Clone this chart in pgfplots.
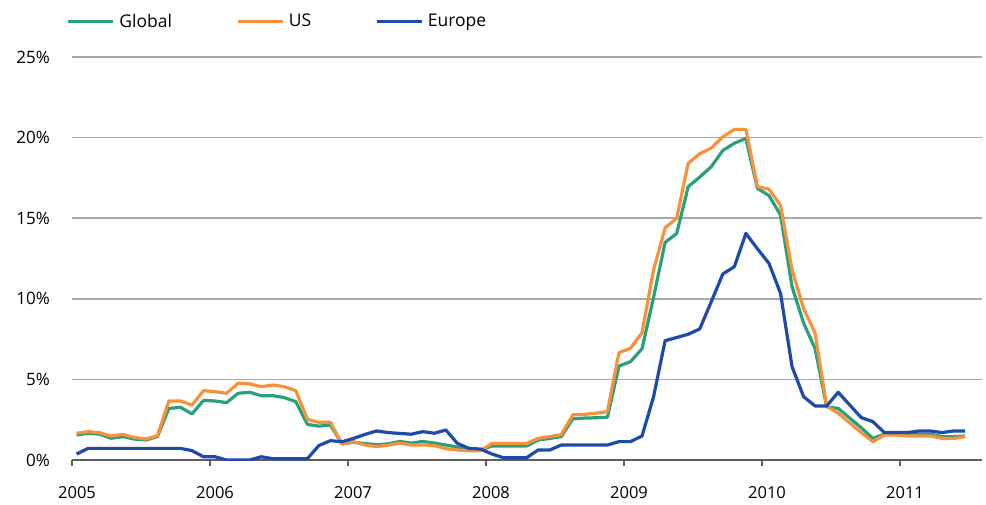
\documentclass[border=0pt]{standalone}
\usepackage{fontspec}
\setmainfont{Open Sans}
\usepackage{pgfplots}
\usepackage{pgfplotstable}
\pgfplotsset{compat=1.18}
\definecolor{cglobal}{RGB}{40,160,125}
\definecolor{cus}{RGB}{247,145,60}
\definecolor{ceurope}{RGB}{30,75,170}
\definecolor{gridgray}{RGB}{165,168,174}
\definecolor{axgray}{RGB}{95,95,95}
\pgfplotstableread{
i g u e
0 1.55 1.66 0.37
1 1.66 1.76 0.72
2 1.60 1.69 0.72
3 1.35 1.49 0.72
4 1.45 1.59 0.72
5 1.30 1.40 0.72
6 1.24 1.30 0.72
7 1.45 1.50 0.72
8 3.20 3.66 0.72
9 3.27 3.66 0.72
10 2.86 3.41 0.58
11 3.70 4.30 0.20
12 3.66 4.24 0.20
13 3.56 4.14 0.00
14 4.14 4.76 0.00
15 4.20 4.72 0.00
16 3.99 4.55 0.20
17 3.99 4.65 0.08
18 3.87 4.55 0.08
19 3.62 4.30 0.08
20 2.21 2.52 0.08
21 2.10 2.34 0.90
22 2.17 2.34 1.20
23 1.00 0.99 1.13
24 1.10 1.13 1.34
25 1.02 0.93 1.59
26 0.95 0.83 1.80
27 1.00 0.92 1.70
28 1.15 1.05 1.65
29 1.05 0.93 1.60
30 1.15 0.93 1.76
31 1.05 0.90 1.66
32 0.93 0.70 1.86
33 0.80 0.62 1.03
34 0.68 0.58 0.72
35 0.62 0.58 0.68
36 0.87 1.03 0.37
37 0.87 1.03 0.14
38 0.87 1.03 0.14
39 0.87 1.03 0.14
40 1.24 1.34 0.62
41 1.34 1.45 0.62
42 1.45 1.57 0.93
43 2.55 2.80 0.93
44 2.60 2.83 0.93
45 2.62 2.90 0.93
46 2.65 3.00 0.93
47 5.83 6.66 1.14
48 6.10 6.93 1.14
49 6.90 7.90 1.49
50 10.10 11.80 3.93
51 13.50 14.40 7.40
52 14.05 15.00 7.60
53 16.95 18.40 7.80
54 17.55 19.00 8.13
55 18.20 19.35 9.82
56 19.20 20.05 11.54
57 19.65 20.50 11.99
58 19.95 20.50 14.06
59 16.85 16.95 13.10
60 16.40 16.80 12.20
61 15.20 15.80 10.34
62 10.75 11.80 5.79
63 8.50 9.40 3.93
64 6.90 7.86 3.35
65 3.30 3.35 3.35
66 3.20 2.90 4.20
67 2.60 2.30 3.41
68 2.00 1.70 2.63
69 1.34 1.14 2.38
70 1.60 1.55 1.70
71 1.60 1.55 1.70
72 1.55 1.49 1.70
73 1.60 1.49 1.80
74 1.60 1.49 1.80
75 1.45 1.34 1.70
76 1.45 1.34 1.80
77 1.49 1.45 1.80
}\datatable
\begin{document}
\begin{tikzpicture}
\path[use as bounding box] (-72pt,-44pt) rectangle (914pt,460pt);
\begin{axis}[
  at={(0pt,0pt)}, anchor=south west,
  scale only axis, width=910pt, height=403pt,
  xmin=2005, xmax=2011.594, ymin=0, ymax=25,
  axis lines=left,
  axis line style={-},
  x axis line style={draw=axgray, line width=1.5pt},
  y axis line style={draw=none},
  xtick={2005,2006,2007,2008,2009,2010,2011},
  ytick={0,5,10,15,20,25},
  xticklabels={2005,2006,2007,2008,2009,2010,2011},
  yticklabel={\pgfmathprintnumber{\tick}\%},
  tick align=outside,
  major tick length=6pt,
  xtick style={draw=axgray, line width=1.5pt},
  ytick style={draw=none},
  ymajorgrids,
  grid style={draw=gridgray, line width=1.5pt},
  /pgf/number format/assume math mode=true,
  every tick label/.append style={font=\fontsize{16.5}{20}\selectfont, text=black},
  xticklabel style={anchor=north, inner sep=0pt, yshift=-20pt, xshift=5pt},
  yticklabel style={anchor=east, inner sep=0pt, xshift=-16pt, font=\fontsize{17}{20}\selectfont},
  legend columns=3,
  legend style={draw=none, fill=none, at={(axis description cs:-0.006,1)}, anchor=south west, yshift=26pt,
    font=\fontsize{17.5}{20}\selectfont, inner sep=0pt,
    /tikz/every even column/.append style={column sep=62pt},
    /tikz/every odd column/.append style={column sep=2.5pt}},
  legend image code/.code={\draw[#1] (0pt,0pt) -- (45pt,0pt);},
  every axis plot/.append style={line width=3.2pt, line join=round},
]
\addplot[cglobal] table[x expr=2005.0333+0.08362*\thisrow{i}, y=g] {\datatable};
\addplot[cus] table[x expr=2005.0333+0.08362*\thisrow{i}, y=u] {\datatable};
\addplot[ceurope] table[x expr=2005.0333+0.08362*\thisrow{i}, y=e] {\datatable};
\legend{Global,US,Europe}
\end{axis}
\end{tikzpicture}
\end{document}
